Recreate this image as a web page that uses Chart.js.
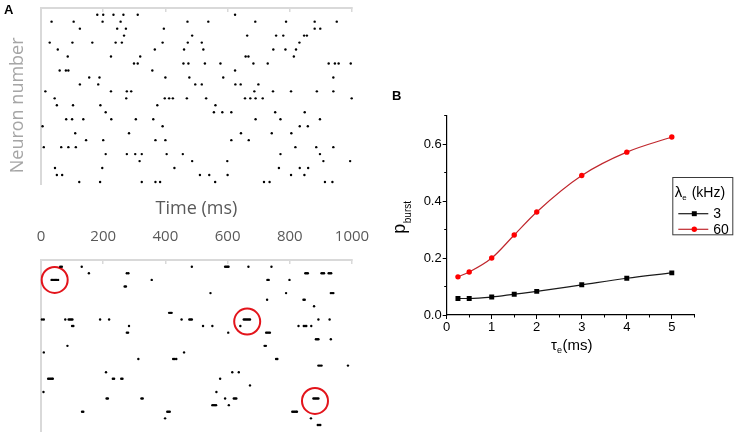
<!DOCTYPE html>
<html>
<head>
<meta charset="utf-8">
<script src="https://cdn.jsdelivr.net/npm/chart.js@4.4.0/dist/chart.umd.min.js"></script>
<style>
html,body{margin:0;padding:0;background:#fff;width:737px;height:446px;overflow:hidden;position:relative}
.box{position:absolute}
.panel{position:absolute;font-family:"Liberation Sans",Arial,sans-serif;font-weight:bold;font-size:13px;line-height:15px;color:#000}
</style>
</head>
<body>
<div class="box" style="left:0;top:0;width:370px;height:225px"><canvas id="cTop"></canvas></div>
<div class="box" style="left:0;top:222px;width:370px;height:224px"><canvas id="cBot"></canvas></div>
<div class="box" style="left:380px;top:100px;width:357px;height:260px"><canvas id="cB"></canvas></div>
<div class="panel" style="left:4px;top:2px">A</div>
<div class="panel" style="left:392px;top:88px">B</div>
<script>
// ---------- Panel A (top raster): spike times (ms), rows from neuron 25 (top) to neuron 1 (bottom)
const topSpikeRows = [
  [181, 200, 233, 265, 311, 624],
  [34, 105, 198, 256, 471, 538, 689, 788, 880, 951],
  [125, 245, 273, 395, 880, 898],
  [267, 486, 663, 756, 779, 846, 855],
  [28, 101, 165, 240, 260, 391, 472, 517, 831],
  [54, 366, 460, 522, 747, 786, 820],
  [86, 225, 319, 658, 667, 813],
  [299, 311, 458, 474, 527, 577, 683, 729, 925, 945, 957, 996],
  [60, 80, 88, 358, 624],
  [155, 188, 400, 477, 586, 940],
  [125, 184, 496, 517, 625, 642, 699],
  [14, 225, 276, 290, 686, 746, 804, 887, 940],
  [44, 274, 398, 412, 424, 469, 531, 656, 673, 690, 713, 999],
  [51, 103, 191, 374, 561],
  [208, 556, 583, 612, 753, 848],
  [81, 100, 136, 226, 305, 361, 690, 770, 897],
  [5, 391, 832, 858],
  [110, 283, 643, 742, 805],
  [145, 200, 368, 400, 612, 668],
  [9, 65, 88, 112, 818, 885, 940],
  [208, 276, 303, 324, 404, 456, 770, 897],
  [317, 486, 599, 908, 994],
  [45, 197, 429, 765, 832, 859],
  [51, 68, 511, 541, 600, 804, 847],
  [123, 190, 324, 368, 383, 560, 717, 735, 913, 937]
];

// ---------- Panel A (bottom raster, bursting): spike times (ms), rows 25 (top) to 1 (bottom)
const bottomSpikeRows = [
  [62, 67, 131, 485, 592, 596, 600, 603, 667, 741],
  [154, 276, 281, 850, 854, 858, 902, 906, 910, 925, 929, 933],
  [34, 38, 42, 46, 50, 55, 356, 728, 732, 799],
  [269, 273],
  [545, 788, 932, 936, 940],
  [727, 844, 848],
  [878],
  [412, 416, 420],
  [3, 9, 78, 89, 93, 97, 101, 190, 219, 452, 477, 481, 485, 652, 656, 660, 664, 668, 672, 892, 928],
  [100, 104, 283, 521, 551, 641, 828, 845, 849, 853, 869],
  [276, 280, 602, 724, 728, 732, 736],
  [884, 888, 892, 932],
  [85, 719, 723],
  [9, 460],
  [313, 425, 430, 435, 756, 760],
  [892, 897, 902, 987],
  [209, 615, 636],
  [23, 27, 31, 35, 38, 231, 235, 258, 262, 576],
  [672],
  [8, 564],
  [211, 215, 323, 327, 592, 620, 624, 628, 876, 880, 884, 888, 892],
  [551, 555, 559, 563, 604],
  [132, 136, 406, 410, 414, 808, 812, 816, 820, 823],
  [399, 868],
  [890, 894, 898]
];
// highlighted bursts (red circles)
const burstCircleTime = [44, 663, 881];
const burstCircleRow = [23, 16.68, 4.64];

const timeTicks = [0, 200, 400, 600, 800, 1000];

// ---------- Panel B
const tauE = [0.25, 0.5, 1, 1.5, 2, 3, 4, 5];
const pBurst3 = [0.058, 0.058, 0.063, 0.073, 0.083, 0.106, 0.129, 0.148];
const pBurst60 = [0.134, 0.151, 0.200, 0.281, 0.362, 0.490, 0.572, 0.625];
const seriesLabels = ['3', '60'];
const legendTitleMain = 'λ', legendTitleSub = 'e', legendTitleRest = ' (kHz)';
const yTitleMain = 'p', yTitleSub = 'burst';
const xTitleMain = 'τ', xTitleSub = 'e', xTitleRest = '(ms)';

// ---------- helpers
function rowsToPoints(rows) {
  const pts = [];
  const n = rows.length;
  rows.forEach((times, i) => times.forEach(t => pts.push({x: t, y: n - i})));
  return pts;
}
const OPEN = '"Open Sans", "Noto Sans", sans-serif';
const ARIAL = '"Liberation Sans", Arial, sans-serif';
const LIGHT = '#d9d9d9';
const noPad = s => { s.paddingLeft = 0; s.paddingRight = 0; s.paddingTop = 0; s.paddingBottom = 0; };

// ---------- Top raster
new Chart(document.getElementById('cTop'), {
  type: 'scatter',
  data: {
    datasets: [{
      data: rowsToPoints(topSpikeRows),
      pointRadius: 1.2, pointHoverRadius: 1.2,
      pointBackgroundColor: '#000', pointBorderWidth: 0,
      clip: false
    }]
  },
  options: {
    responsive: true, maintainAspectRatio: false, animation: false, events: [],
    layout: {padding: {left: 0, right: 18, top: 0, bottom: 0}},
    plugins: {legend: {display: false}, tooltip: {enabled: false}},
    scales: {
      x: {
        type: 'linear', position: 'bottom', min: 0, max: 1000,
        grid: {display: false}, border: {display: false}, ticks: {display: false},
        title: {display: true, text: 'Time (ms)', color: '#595959',
                font: {family: OPEN, size: 18}, padding: {top: 0, bottom: 5}},
        afterFit: s => { s.height = 41; noPad(s); }
      },
      xTop: {
        type: 'linear', position: 'top', min: 0, max: 1000,
        ticks: {display: false, stepSize: 200},
        grid: {drawOnChartArea: false, drawTicks: true, tickLength: -4, color: LIGHT, lineWidth: 1.5},
        border: {display: true, color: LIGHT, width: 2},
        afterFit: s => { s.height = 8; noPad(s); }
      },
      y: {
        type: 'linear', position: 'left', min: 0.713, max: 25.96,
        grid: {display: false}, ticks: {display: false},
        border: {color: LIGHT, width: 2},
        title: {display: true, text: 'Neuron number\u00a0\u00a0\u00a0\u00a0', color: '#a6a6a6',
                font: {family: OPEN, size: 18}, padding: {top: 7.5, bottom: 0}},
        afterFit: s => { s.width = 41; noPad(s); }
      }
    }
  }
});

// ---------- Bottom raster
new Chart(document.getElementById('cBot'), {
  type: 'scatter',
  data: {
    datasets: [{
      data: rowsToPoints(bottomSpikeRows),
      pointRadius: 1.2, pointHoverRadius: 1.2,
      pointBackgroundColor: '#000', pointBorderWidth: 0,
      clip: false
    }, {
      data: burstCircleTime.map((t, i) => ({x: t, y: burstCircleRow[i]})),
      pointRadius: 13, pointHoverRadius: 13,
      pointBackgroundColor: 'rgba(0,0,0,0)', pointBorderColor: '#e3141b', pointBorderWidth: 2,
      clip: false
    }]
  },
  options: {
    responsive: true, maintainAspectRatio: false, animation: false, events: [],
    layout: {padding: {left: 0, right: 18, top: 0, bottom: 0}},
    plugins: {legend: {display: false}, tooltip: {enabled: false}},
    scales: {
      x: {
        type: 'linear', position: 'top', min: 0, max: 1000,
        afterBuildTicks: s => { s.ticks = timeTicks.map(v => ({value: v})); },
        ticks: {color: '#595959', font: {family: OPEN, size: 15}, padding: 18,
                maxRotation: 0, autoSkip: false, callback: v => String(v)},
        grid: {drawOnChartArea: false, drawTicks: true, tickLength: -4, color: LIGHT, lineWidth: 1.5},
        border: {color: LIGHT, width: 2},
        afterFit: s => { s.height = 38; noPad(s); }
      },
      y: {
        type: 'linear', position: 'left', min: 0.08, max: 26.02,
        grid: {display: false}, ticks: {display: false},
        border: {color: LIGHT, width: 2},
        afterFit: s => { s.width = 41; noPad(s); }
      }
    }
  }
});

// ---------- Panel B
const panelBText = {
  id: 'panelBText',
  afterDraw(chart) {
    const {ctx, chartArea: a} = chart;
    const H = Chart.helpers;
    ctx.save();
    ctx.fillStyle = '#000';
    ctx.textAlign = 'left';
    ctx.textBaseline = 'alphabetic';
    // y title: p_burst (rotated)
    const fBig = '18px ' + ARIAL, fSub = '10px ' + ARIAL;
    ctx.font = fBig; const wP = ctx.measureText(yTitleMain).width;
    ctx.font = fSub; const wS = ctx.measureText(yTitleSub).width;
    const tot = wP + 0.5 + wS;
    const cy = (a.top + a.bottom) / 2 + 2;
    ctx.save();
    ctx.translate(a.left - 42, cy + tot / 2);
    ctx.rotate(-Math.PI / 2);
    ctx.font = fBig; ctx.fillText(yTitleMain, 0, 0);
    ctx.font = fSub; ctx.fillText(yTitleSub, wP + 0.5, 6);
    ctx.restore();
    // x title: tau_e(ms)
    const fX = '15px ' + ARIAL, fXs = '9px ' + ARIAL;
    ctx.font = fX; const w1 = ctx.measureText(xTitleMain).width; const w3 = ctx.measureText(xTitleRest).width;
    ctx.font = fXs; const w2 = ctx.measureText(xTitleSub).width;
    let x0 = (a.left + a.right) / 2 - (w1 + w2 + w3) / 2 + 1;
    const by = a.bottom + 35;
    ctx.font = fX; ctx.fillText(xTitleMain, x0, by);
    ctx.font = fXs; ctx.fillText(xTitleSub, x0 + w1, by + 3);
    ctx.font = fX; ctx.fillText(xTitleRest, x0 + w1 + w2 + 0.5, by);
    // legend box
    const L = a.right - 22, T = a.top + 61.3, W = 61, Hh = 58.3;
    ctx.fillStyle = '#fff';
    ctx.fillRect(L, T, W, Hh);
    ctx.strokeStyle = '#3a3a3a'; ctx.lineWidth = 1;
    ctx.strokeRect(L + 0.5, T + 0.5, W - 1, Hh - 1);
    ctx.fillStyle = '#000';
    ctx.font = '15px ' + ARIAL;
    const wl = ctx.measureText(legendTitleMain).width;
    ctx.fillText(legendTitleMain, L + 2.5, T + 19.5);
    ctx.font = '8px ' + ARIAL;
    const we = ctx.measureText(legendTitleSub).width;
    ctx.fillText(legendTitleSub, L + 2.5 + wl, T + 22.5);
    ctx.font = '14px ' + ARIAL;
    ctx.fillText(legendTitleRest, L + 2.5 + wl + we + 1, T + 19.5);
    const rowsY = [T + 36.7, T + 52.3];
    chart.data.datasets.forEach((ds, i) => {
      const y = rowsY[i];
      ctx.strokeStyle = ds.borderColor; ctx.lineWidth = ds.borderWidth;
      ctx.beginPath(); ctx.moveTo(L + 6, y); ctx.lineTo(L + 36, y); ctx.stroke();
      ctx.fillStyle = ds.pointBackgroundColor;
      H.drawPoint(ctx, {pointStyle: ds.pointStyle, radius: ds.pointRadius, rotation: 0, borderWidth: 0}, L + 22, y);
      ctx.fillStyle = '#000';
      ctx.font = '14px ' + ARIAL;
      ctx.textBaseline = 'middle';
      ctx.fillText(ds.label, L + 41, y + 0.5);
      ctx.textBaseline = 'alphabetic';
    });
    ctx.restore();
  }
};

new Chart(document.getElementById('cB'), {
  type: 'line',
  data: {
    datasets: [{
      label: seriesLabels[0],
      data: tauE.map((x, i) => ({x: x, y: pBurst3[i]})),
      xAxisID: 'x', yAxisID: 'y',
      borderColor: '#1a1a1a', borderWidth: 1.2,
      pointStyle: 'rect', pointRadius: 3.5, pointHoverRadius: 3.5,
      pointBackgroundColor: '#000', pointBorderWidth: 0,
      cubicInterpolationMode: 'monotone', fill: false
    }, {
      label: seriesLabels[1],
      data: tauE.map((x, i) => ({x: x, y: pBurst60[i]})),
      xAxisID: 'x', yAxisID: 'y',
      borderColor: '#c0272d', borderWidth: 1.2,
      pointStyle: 'circle', pointRadius: 2.7, pointHoverRadius: 2.7,
      pointBackgroundColor: '#ff0000', pointBorderWidth: 0,
      cubicInterpolationMode: 'monotone', fill: false
    }]
  },
  options: {
    responsive: true, maintainAspectRatio: false, animation: false, events: [],
    layout: {padding: {left: 0, right: 42.7, top: 15.7, bottom: 0}},
    plugins: {legend: {display: false}, tooltip: {enabled: false}},
    scales: {
      x: {
        type: 'linear', position: 'bottom', min: 0, max: 5.5, weight: 0,
        ticks: {stepSize: 1, includeBounds: false, color: '#000', font: {family: ARIAL, size: 13},
                padding: 1, maxRotation: 0, autoSkip: false, callback: v => String(v)},
        grid: {drawOnChartArea: false, drawTicks: true, tickLength: 4, color: '#000', lineWidth: 1},
        border: {color: '#000', width: 1.2},
        afterFit: s => { s.height = 45; noPad(s); }
      },
      xMinor: {
        type: 'linear', position: 'bottom', min: 0, max: 5.5, weight: -1,
        ticks: {display: false, stepSize: 0.5},
        grid: {drawOnChartArea: false, drawTicks: true, tickLength: 2.5, color: '#000', lineWidth: 1},
        border: {display: false},
        afterFit: s => { s.height = 0; noPad(s); }
      },
      y: {
        type: 'linear', position: 'left', min: 0, max: 0.7, weight: 0,
        ticks: {stepSize: 0.2, includeBounds: false, color: '#000', font: {family: ARIAL, size: 13},
                padding: 1, callback: v => Number(v).toFixed(1)},
        grid: {drawOnChartArea: false, drawTicks: true, tickLength: 4, color: '#000', lineWidth: 1},
        border: {color: '#000', width: 1.2},
        afterFit: s => { s.width = 66.7; noPad(s); }
      },
      yMinor: {
        type: 'linear', position: 'left', min: 0, max: 0.7, weight: -1,
        ticks: {display: false, stepSize: 0.1},
        grid: {drawOnChartArea: false, drawTicks: true, tickLength: 2.5, color: '#000', lineWidth: 1},
        border: {display: false},
        afterFit: s => { s.width = 0; noPad(s); }
      }
    }
  },
  plugins: [panelBText]
});
</script>
</body>
</html>
